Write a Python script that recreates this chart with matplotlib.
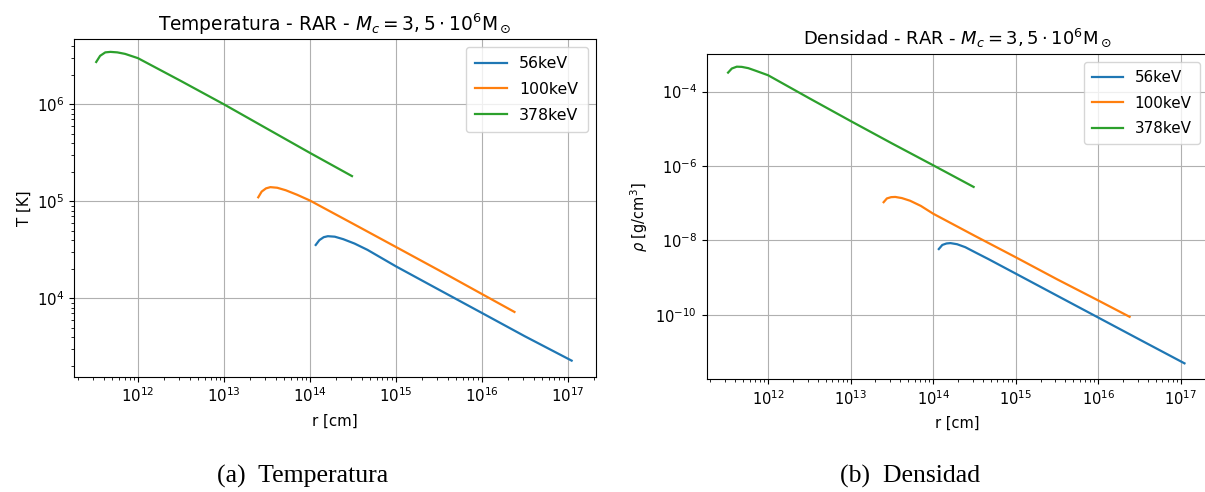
import matplotlib
matplotlib.use("Agg")
import matplotlib.pyplot as plt
from matplotlib.ticker import NullLocator

# RAR profiles for three fermion masses: radius [cm], temperature [K], density [g/cm^3]
labels = ["56keV", "100keV", "378keV"]

r_56 = [1.17e14, 1.29e14, 1.45e14, 1.62e14, 1.95e14, 2.45e14, 3.31e14,
        4.68e14, 1.0e15, 3.16e15, 1.0e16, 3.16e16, 1.11e17]
T_56 = [3.55e4, 3.98e4, 4.27e4, 4.37e4, 4.32e4, 4.07e4, 3.67e4,
        3.16e4, 2.14e4, 1.23e4, 7.08e3, 4.07e3, 2.28e3]
rho_56 = [5.89e-9, 7.59e-9, 8.32e-9, 8.51e-9, 7.94e-9, 6.61e-9, 4.68e-9,
          3.16e-9, 1.29e-9, 3.31e-10, 8.51e-11, 2.19e-11, 5.01e-12]

r_100 = [2.51e13, 2.75e13, 3.09e13, 3.47e13, 4.17e13, 5.25e13, 7.08e13,
         1.0e14, 3.16e14, 1.0e15, 3.16e15, 1.0e16, 2.40e16]
T_100 = [1.10e5, 1.26e5, 1.36e5, 1.40e5, 1.38e5, 1.30e5, 1.17e5,
         1.02e5, 5.89e4, 3.39e4, 1.95e4, 1.11e4, 7.24e3]
rho_100 = [1.07e-7, 1.35e-7, 1.46e-7, 1.48e-7, 1.38e-7, 1.17e-7, 8.51e-8,
           5.25e-8, 1.35e-8, 3.55e-9, 9.12e-10, 2.45e-10, 8.91e-11]

r_378 = [3.27e11, 3.63e11, 4.17e11, 4.79e11, 5.75e11, 7.08e11, 1.0e12,
         3.16e12, 1.0e13, 3.16e13, 1.0e14, 3.09e14]
T_378 = [2.73e6, 3.16e6, 3.43e6, 3.47e6, 3.43e6, 3.31e6, 2.99e6,
         1.74e6, 1.0e6, 5.62e5, 3.16e5, 1.82e5]
rho_378 = [3.24e-4, 4.17e-4, 4.68e-4, 4.62e-4, 4.27e-4, 3.63e-4, 2.75e-4,
           6.61e-5, 1.62e-5, 4.07e-6, 1.05e-6, 2.75e-7]

radii = [r_56, r_100, r_378]
temps = [T_56, T_100, T_378]
dens = [rho_56, rho_100, rho_378]

title_mass = r" - RAR - $M_c = 3,5\cdot10^6\mathrm{M}_\odot$"

fig = plt.figure(figsize=(12.05, 4.92), dpi=100)

# temperature panel
fs = 10.8
ax_t = fig.add_axes([0.0614, 0.2343, 0.433, 0.6864])
for r, T, lab in zip(radii, temps, labels):
    ax_t.plot(r, T, lw=1.6, label=lab)
ax_t.set_xscale("log")
ax_t.set_yscale("log")
ax_t.set_xlim(10**11.256, 10**17.326)
ax_t.set_ylim(10**3.192, 10**6.673)
ax_t.set_title("Temperatura" + title_mass, fontsize=13.4, pad=6)
ax_t.set_xlabel("r [cm]", fontsize=fs, labelpad=6)
ax_t.set_ylabel("T [K]", fontsize=fs)
ax_t.tick_params(labelsize=fs)
ax_t.grid(True)
ax_t.legend(loc="upper right", fontsize=11.3, labelspacing=0.68,
            borderpad=0.6)

# density panel
fs = 10.5
ax_d = fig.add_axes([0.5865, 0.229, 0.4157, 0.6612])
for r, rho, lab in zip(radii, dens, labels):
    ax_d.plot(r, rho, lw=1.6, label=lab)
ax_d.set_xscale("log")
ax_d.set_yscale("log")
ax_d.set_xlim(10**11.256, 10**17.326)
ax_d.set_ylim(10**-11.73, 10**-2.99)
ax_d.set_yticks([1e-10, 1e-8, 1e-6, 1e-4])
ax_d.yaxis.set_minor_locator(NullLocator())
ax_d.set_title("Densidad" + title_mass, fontsize=13.0, pad=7)
ax_d.set_xlabel("r [cm]", fontsize=fs, labelpad=6)
ax_d.set_ylabel(r"$\rho$ [g/cm$^3$]", fontsize=fs)
ax_d.tick_params(labelsize=fs)
ax_d.grid(True)
ax_d.legend(loc="upper right", fontsize=10.9, labelspacing=0.7,
            borderpad=0.55)

# subfigure captions
cap = dict(ha="center", va="center", fontsize=18.5, family="Liberation Serif")
fig.text(0.2515, 0.031, "(a)  Temperatura", **cap)
fig.text(0.7553, 0.031, "(b)  Densidad", **cap)

fig.savefig("out.png", dpi=100)
